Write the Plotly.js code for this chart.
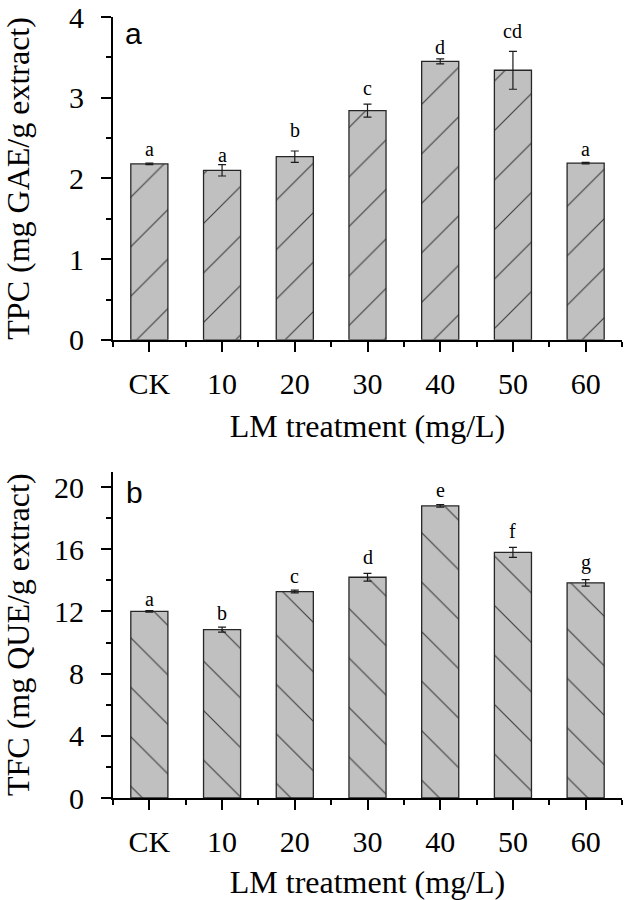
<!DOCTYPE html>
<html><head><meta charset="utf-8">
<script src="https://cdn.plot.ly/plotly-3.0.1.min.js"></script>
<style>html,body{margin:0;padding:0;background:#fff}</style>
</head><body><div id="chart" style="width:629px;height:900px"></div>
<script>
// ---- data ----
const categories = ['CK', '10', '20', '30', '40', '50', '60'];
const tpcValues = [2.18, 2.10, 2.27, 2.84, 3.45, 3.34, 2.19];
const tpcErrors = [0.01, 0.07, 0.07, 0.08, 0.03, 0.235, 0.01];
const tpcLetters = ['a', 'a', 'b', 'c', 'd', 'cd', 'a'];
const tpcLetterY = [2.265, 2.193, 2.50, 3.02, 3.527, 3.732, 2.265];
const tfcValues = [12.0, 10.83, 13.28, 14.2, 18.79, 15.8, 13.84];
const tfcErrors = [0.05, 0.157, 0.09, 0.245, 0.08, 0.32, 0.21];
const tfcLetters = ['a', 'b', 'c', 'd', 'e', 'f', 'g'];
const tfcLetterY = [12.30, 11.37, 13.75, 14.99, 19.33, 16.69, 14.59];
const tpcTicks = [0, 1, 2, 3, 4];
const tfcTicks = [0, 4, 8, 12, 16, 20];

const idx = categories.map((c, i) => i);
const serif = 'Liberation Serif, Times New Roman, serif';
const sans = 'Liberation Sans, Arial, sans-serif';

function barTrace(vals, errs, shape, xa, ya) {
  return {
    type: 'bar', x: idx, y: vals, width: 0.51, xaxis: xa, yaxis: ya,
    marker: {
      color: '#c0c0c0',
      line: {color: '#262626', width: 1.3},
      pattern: {shape: shape, fgcolor: '#3a3a3a', bgcolor: '#c0c0c0', size: 35, solidity: 0.03}
    },
    error_y: {type: 'data', array: errs, visible: true, color: '#1a1a1a', thickness: 1.2, width: 4},
    hoverinfo: 'skip'
  };
}

const data = [
  barTrace(tpcValues, tpcErrors, '/', 'x', 'y'),
  barTrace(tfcValues, tfcErrors, '\\', 'x2', 'y2')
];

function xAxis(anchor) {
  return {
    anchor: anchor, domain: [0, 1], range: [-0.5, 6.5],
    tickmode: 'array', tickvals: idx, ticktext: categories,
    ticks: 'outside', ticklen: 10, tickwidth: 2, tickcolor: '#000',
    minor: {tickmode: 'linear', tick0: -0.5, dtick: 1, ticks: 'outside', ticklen: 5, tickwidth: 2, tickcolor: '#000'},
    showline: true, linewidth: 2, linecolor: '#000', showgrid: false, zeroline: false,
    ticklabelstandoff: 6, ticklabeloverflow: 'allow',
    tickfont: {family: serif, size: 30, color: '#000'},
    title: {text: 'LM treatment (mg/L)', font: {family: serif, size: 32, color: '#000'}, standoff: 16},
    fixedrange: true
  };
}
function yAxis(anchor, dom, rng, ticks, minorStep, title) {
  return {
    anchor: anchor, domain: dom, range: rng,
    tickmode: 'array', tickvals: ticks,
    ticks: 'outside', ticklen: 10, tickwidth: 2, tickcolor: '#000',
    minor: {tickmode: 'linear', tick0: 0, dtick: minorStep, ticks: 'outside', ticklen: 5, tickwidth: 2, tickcolor: '#000'},
    showline: true, linewidth: 2, linecolor: '#000', showgrid: false, zeroline: false,
    ticklabelstandoff: 11, ticklabeloverflow: 'allow',
    tickfont: {family: serif, size: 30, color: '#000'},
    title: {text: title, font: {family: serif, size: 32, color: '#000'}, standoff: 30},
    fixedrange: true
  };
}

const annotations = [];
tpcLetters.forEach((t, i) => annotations.push({
  xref: 'x', yref: 'y', x: idx[i], y: tpcLetterY[i], text: t, showarrow: false,
  yanchor: 'bottom', yshift: -5, font: {family: serif, size: 20, color: '#000'}
}));
tfcLetters.forEach((t, i) => annotations.push({
  xref: 'x2', yref: 'y2', x: idx[i], y: tfcLetterY[i], text: t, showarrow: false,
  yanchor: 'bottom', yshift: -5, font: {family: serif, size: 20, color: '#000'}
}));
annotations.push({xref: 'x domain', yref: 'y domain', x: 0.02, y: 0.95, text: 'a', showarrow: false,
  xanchor: 'left', yanchor: 'middle', font: {family: sans, size: 30, color: '#000'}});
annotations.push({xref: 'x2 domain', yref: 'y2 domain', x: 0.022, y: 0.935, text: 'b', showarrow: false,
  xanchor: 'left', yanchor: 'middle', font: {family: sans, size: 30, color: '#000'}});

const layout = {
  width: 629, height: 900,
  margin: {l: 113, r: 7.3, t: 17, b: 101.7},
  paper_bgcolor: '#fff', plot_bgcolor: '#fff',
  showlegend: false,
  xaxis: xAxis('y'),
  yaxis: yAxis('x', [0.5866, 1], [0, 4], tpcTicks, 0.5, 'TPC (mg GAE/g extract)'),
  xaxis2: xAxis('y2'),
  yaxis2: yAxis('x2', [0, 0.418], [0, 21], tfcTicks, 2, 'TFC (mg QUE/g extract)'),
  annotations: annotations
};

Plotly.newPlot('chart', data, layout, {displayModeBar: false, staticPlot: true});
</script>
</body></html>
